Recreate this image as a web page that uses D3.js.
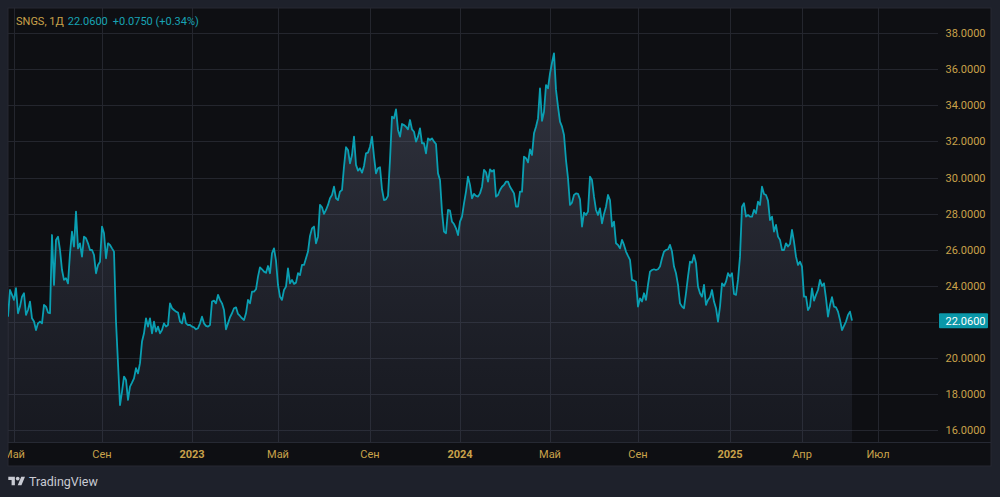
<!DOCTYPE html>
<html><head><meta charset="utf-8">
<script src="https://cdn.jsdelivr.net/npm/d3@7"></script>
<style>
html,body{margin:0;padding:0;background:#1e212b;}
svg{display:block;}
text{font-family:Roboto,"Noto Sans",sans-serif;}
</style></head>
<body>
<svg id="chart" width="1000" height="497"></svg>
<script>
// ---- data ----
const symbol = "SNGS, 1Д";
const lastPrice = 22.06;
const change = 0.075;
const changePct = 0.34;
// closing prices sampled every ~2 trading sessions
const closes = [
22.28,23.76,23.49,23.21,23.86,22.47,22.84,23.39,23.58,22.38,
22.65,23.12,22.19,22.01,21.54,21.91,22.01,21.91,22.93,22.84,
22.51,22.47,26.81,24.04,26.54,26.72,25.98,24.87,24.32,24.41,
24.13,25.80,27.00,26.17,28.11,26.07,26.35,25.61,26.72,26.63,
26.35,25.98,25.98,25.70,24.69,25.15,25.33,27.28,26.91,25.52,
26.35,26.26,26.07,25.89,22.01,19.70,17.38,18.12,18.96,18.77,
17.66,18.40,18.62,18.86,19.42,19.14,19.70,20.90,21.36,22.19,
21.73,22.19,21.36,22.01,21.45,21.73,21.36,21.54,21.91,21.73,
21.82,23.02,22.75,22.65,22.56,22.51,22.01,21.91,22.47,21.91,
21.82,21.82,21.73,21.69,21.58,21.64,21.91,22.28,21.91,21.77,
21.73,21.82,23.12,23.17,23.02,23.49,23.21,23.02,22.65,21.58,
21.91,22.25,22.47,22.75,22.80,22.43,22.32,22.19,22.10,22.47,
23.21,23.02,23.67,23.67,23.80,24.50,25.02,24.91,24.78,24.72,
25.09,24.69,25.80,26.07,25.39,24.04,23.39,23.21,23.76,23.95,
24.96,24.13,24.32,24.10,24.17,24.69,24.59,25.15,25.15,25.52,
25.89,26.76,27.18,27.28,26.35,26.72,28.48,28.35,27.98,28.20,
28.48,28.85,29.03,29.49,28.85,28.75,29.22,29.31,30.60,31.68,
31.53,30.79,31.25,32.27,30.70,30.38,30.51,30.27,30.64,31.34,
31.38,31.71,32.27,31.16,30.23,30.51,30.57,29.35,28.75,28.79,
28.98,30.97,33.38,33.28,33.78,32.64,32.27,32.97,32.91,32.82,
32.67,33.19,32.67,32.54,31.99,32.27,32.73,31.90,31.90,31.34,
32.17,32.08,32.17,31.99,31.86,30.23,29.86,28.11,27.00,26.91,
28.20,28.16,27.55,27.42,27.18,26.81,27.55,27.83,28.57,29.22,
30.05,29.59,28.85,29.09,28.98,28.94,29.12,29.49,30.42,30.29,
29.77,30.45,30.33,30.42,28.94,29.03,29.31,29.49,29.59,29.77,
29.77,29.49,29.31,29.12,28.38,28.38,29.22,29.22,31.16,31.07,
30.84,31.56,31.25,32.45,32.82,33.28,34.95,33.15,33.65,35.13,
34.95,35.78,36.37,36.89,34.86,33.93,33.10,32.82,32.36,30.97,
29.96,28.48,28.61,29.03,29.12,29.09,28.79,27.28,28.05,27.92,
28.11,30.05,29.86,28.94,28.20,27.92,28.29,27.46,27.98,28.38,
29.03,28.75,27.28,27.55,26.35,26.26,26.07,26.54,26.26,25.89,
25.65,25.43,24.32,24.28,24.22,22.84,23.30,23.12,23.58,23.21,
24.04,24.78,24.87,24.91,24.87,24.91,25.06,25.52,25.89,25.98,
26.02,26.26,25.89,25.06,24.69,24.04,23.02,22.84,22.75,23.58,
24.50,25.33,25.28,25.70,25.24,23.95,23.58,23.39,24.04,22.93,
23.21,23.36,23.76,23.12,22.75,22.01,22.84,24.13,23.98,24.22,
24.69,24.50,24.69,23.54,23.49,24.32,25.61,28.38,28.57,27.83,
27.92,27.83,27.83,28.20,28.01,28.66,28.48,29.49,29.09,29.03,
28.72,27.64,27.83,27.00,27.37,26.72,26.54,25.98,25.98,26.35,
26.17,26.31,27.09,26.44,25.61,25.15,25.33,25.06,23.39,23.39,
22.65,22.84,23.85,23.17,23.49,23.76,24.32,23.98,24.13,23.30,
22.28,22.93,23.36,22.84,22.80,22.56,22.10,21.54,21.77,22.01,
22.38,22.56,22.06
];
const totalSlots = 465; // visible sample slots incl. empty future space
const timeTickIndex = [3, 47, 92, 135, 181, 226, 271, 315, 361, 397, 435];
const timeTickLabels = ["Май","Сен","2023","Май","Сен","2024","Май","Сен","2025","Апр","Июл"];
const priceTicks = [16,18,20,22,24,26,28,30,32,34,36,38];

// ---- layout ----
const W = 1000, H = 497;
const pane = {x0: 8, y0: 8, x1: 991, y1: 466};
const plot = {x0: 8, x1: 938, y0: 8, y1: 442};
const gold = "#c9a24a", teal = "#0a9fb2", grid = "#24262e";

const svg = d3.select("#chart");
svg.append("rect").attr("width", W).attr("height", H).attr("fill", "#1e212b");
svg.append("rect").attr("x", pane.x0).attr("y", pane.y0)
  .attr("width", pane.x1 - pane.x0).attr("height", pane.y1 - pane.y0)
  .attr("fill", "#0e0f13").attr("stroke", "#262933").attr("stroke-width", 1);

const x = d3.scaleLinear().domain([0, totalSlots]).range([plot.x0, plot.x1]);
const y = d3.scaleLinear().domain([16, 38]).range([429.9, 33.3]);

const defs = svg.append("defs");
defs.append("clipPath").attr("id", "clipPlot").append("rect")
  .attr("x", plot.x0).attr("y", plot.y0).attr("width", plot.x1 - plot.x0).attr("height", plot.y1 - plot.y0);
defs.append("clipPath").attr("id", "clipPane").append("rect")
  .attr("x", pane.x0).attr("y", pane.y0).attr("width", pane.x1 - pane.x0).attr("height", pane.y1 - pane.y0);
const grad = defs.append("linearGradient").attr("id", "fillGrad")
  .attr("gradientUnits", "userSpaceOnUse").attr("x1", 0).attr("x2", 0)
  .attr("y1", y(d3.max(closes))).attr("y2", plot.y1);
grad.append("stop").attr("offset", 0).attr("stop-color", "rgb(110,116,140)").attr("stop-opacity", 0.38);
grad.append("stop").attr("offset", 1).attr("stop-color", "rgb(70,76,100)").attr("stop-opacity", 0.16);

// grid
const g = svg.append("g").attr("clip-path", "url(#clipPlot)");
g.selectAll("line.h").data(priceTicks).join("line")
  .attr("x1", plot.x0).attr("x2", plot.x1)
  .attr("y1", d => Math.round(y(d)) + 0.5).attr("y2", d => Math.round(y(d)) + 0.5)
  .attr("stroke", grid).attr("stroke-width", 1);
g.selectAll("line.v").data(timeTickIndex).join("line")
  .attr("y1", plot.y0).attr("y2", plot.y1)
  .attr("x1", d => Math.round(x(d)) + 0.5).attr("x2", d => Math.round(x(d)) + 0.5)
  .attr("stroke", grid).attr("stroke-width", 1);

// area + line
const area = d3.area().x((d, i) => x(i)).y0(plot.y1).y1(d => y(d));
const line = d3.line().x((d, i) => x(i)).y(d => y(d));
g.append("path").datum(closes).attr("d", area).attr("fill", "url(#fillGrad)");
g.append("path").datum(closes).attr("d", line).attr("fill", "none")
  .attr("stroke", teal).attr("stroke-width", 1.8).attr("stroke-linejoin", "round");

// time axis separator
svg.append("line").attr("x1", pane.x0).attr("x2", pane.x1)
  .attr("y1", plot.y1 + 0.5).attr("y2", plot.y1 + 0.5).attr("stroke", "#262933");

// time axis labels
const xt = svg.append("g").attr("clip-path", "url(#clipPane)");
xt.selectAll("text").data(timeTickIndex).join("text")
  .attr("x", d => x(d)).attr("y", 458)
  .attr("text-anchor", "middle").attr("font-size", 11)
  .attr("font-weight", (d, i) => /^\d{4}$/.test(timeTickLabels[i]) ? 700 : 400)
  .attr("fill", gold).text((d, i) => timeTickLabels[i]);

// price axis labels
const lastY = y(lastPrice);
svg.append("g").selectAll("text").data(priceTicks.filter(v => Math.abs(y(v) - lastY) > 10)).join("text")
  .attr("x", 945.5).attr("y", d => y(d) + 4)
  .attr("font-size", 11).attr("fill", gold)
  .text(d => d.toFixed(4));

// last price marker
svg.append("rect").attr("x", 939).attr("y", lastY - 7.5).attr("width", 49).attr("height", 15)
  .attr("fill", "#0a97a8").attr("rx", 1);
svg.append("text").attr("x", 945.5).attr("y", lastY + 4)
  .attr("font-size", 11).attr("fill", "#ffffff").text(lastPrice.toFixed(4));

// header
const hdr = svg.append("text").attr("x", 16).attr("y", 25).attr("font-size", 11);
hdr.append("tspan").attr("fill", gold).text(symbol);
hdr.append("tspan").attr("fill", "#18a3b4").attr("dx", 4).text(lastPrice.toFixed(4));
hdr.append("tspan").attr("fill", "#18a3b4").attr("dx", 5)
  .text("+" + change.toFixed(4) + " (+" + changePct.toFixed(2) + "%)");

// TradingView logo
const logo = svg.append("g").attr("transform", "translate(8.3,474.8) scale(0.47)").attr("fill", "#c9cbd3");
logo.append("path").attr("d", "M14 22H7V11H0V4h14v18zM28 22h-8l7.5-18h8L28 22z");
logo.append("circle").attr("cx", 20).attr("cy", 8).attr("r", 4);
svg.append("text").attr("x", 29).attr("y", 486).attr("font-size", 12.5)
  .attr("fill", "#c9cbd3").text("TradingView");
</script>
</body></html>
